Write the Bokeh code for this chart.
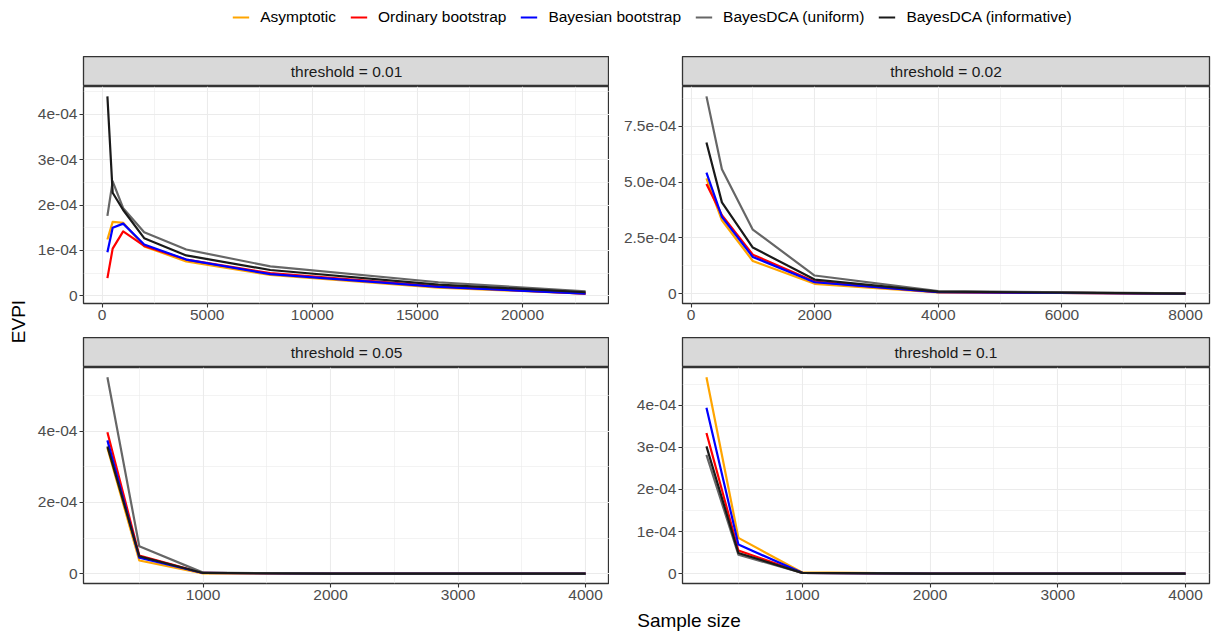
import math
import numpy as np
from bokeh.plotting import figure
from bokeh.models import Range1d, FixedTicker, Legend, LegendItem
from bokeh.layouts import column, row
from bokeh.embed import file_html
from bokeh.resources import INLINE
from bokeh.core.properties import value

FONT = "Liberation Sans"
SCALE = 1e-4  # series values below are in units of 1e-4

methods = ["Asymptotic", "Ordinary bootstrap", "Bayesian bootstrap",
           "BayesDCA (uniform)", "BayesDCA (informative)"]
colors = ["#FFA500", "#FF0000", "#0000FF", "#666666", "#1A1A1A"]

# threshold = 0.01
n_t1 = [250, 500, 1000, 2000, 4000, 8000, 16000, 23000]
asym_t1 = [1.24, 1.63, 1.61, 1.09, 0.76, 0.46, 0.18, 0.05]
ord_t1 = [0.39, 1.04, 1.42, 1.10, 0.80, 0.50, 0.21, 0.05]
bay_t1 = [0.96, 1.50, 1.59, 1.13, 0.80, 0.48, 0.20, 0.05]
uni_t1 = [1.76, 2.52, 1.93, 1.40, 1.02, 0.65, 0.30, 0.10]
inf_t1 = [4.39, 2.27, 1.89, 1.27, 0.89, 0.57, 0.25, 0.08]

# threshold = 0.02
n_t2 = [250, 500, 1000, 2000, 4000, 8000]
asym_t2 = [5.16, 3.29, 1.47, 0.45, 0.07, 0.01]
ord_t2 = [4.91, 3.52, 1.75, 0.55, 0.08, 0.01]
bay_t2 = [5.42, 3.44, 1.65, 0.52, 0.08, 0.01]
uni_t2 = [8.83, 5.57, 2.87, 0.82, 0.12, 0.02]
inf_t2 = [6.77, 4.09, 2.07, 0.64, 0.10, 0.01]

# threshold = 0.05
n_t3 = [250, 500, 1000, 2000, 4000]
asym_t3 = [3.53, 0.37, 0.01, 0.0, 0.0]
ord_t3 = [3.97, 0.51, 0.02, 0.0, 0.0]
bay_t3 = [3.74, 0.45, 0.02, 0.0, 0.0]
uni_t3 = [5.51, 0.77, 0.03, 0.0, 0.0]
inf_t3 = [3.57, 0.49, 0.02, 0.0, 0.0]

# threshold = 0.1
n_t4 = [250, 500, 1000, 2000, 4000]
asym_t4 = [4.66, 0.85, 0.03, 0.0, 0.0]
ord_t4 = [3.34, 0.55, 0.02, 0.0, 0.0]
bay_t4 = [3.94, 0.69, 0.02, 0.0, 0.0]
uni_t4 = [2.82, 0.45, 0.02, 0.0, 0.0]
inf_t4 = [3.02, 0.49, 0.02, 0.0, 0.0]

strip_labels = ["threshold = 0.01", "threshold = 0.02", "threshold = 0.05", "threshold = 0.1"]

xticks_t1 = [0, 5000, 10000, 15000, 20000]
xminor_t1 = [2500, 7500, 12500, 17500, 22500]
xticks_t2 = [0, 2000, 4000, 6000, 8000]
xminor_t2 = [1000, 3000, 5000, 7000]
xticks_t34 = [1000, 2000, 3000, 4000]
xminor_t34 = [500, 1500, 2500, 3500]

yticks_t1 = [0, 1e-4, 2e-4, 3e-4, 4e-4]
ylabels_t1 = ["0", "1e-04", "2e-04", "3e-04", "4e-04"]
yminor_t1 = [5e-5, 1.5e-4, 2.5e-4, 3.5e-4, 4.5e-4]
yticks_t2 = [0, 2.5e-4, 5e-4, 7.5e-4]
ylabels_t2 = ["0", "2.5e-04", "5.0e-04", "7.5e-04"]
yminor_t2 = [1.25e-4, 3.75e-4, 6.25e-4, 8.75e-4]
yticks_t3 = [0, 2e-4, 4e-4]
ylabels_t3 = ["0", "2e-04", "4e-04"]
yminor_t3 = [1e-4, 3e-4, 5e-4]
yticks_t4 = [0, 1e-4, 2e-4, 3e-4, 4e-4]
ylabels_t4 = ["0", "1e-04", "2e-04", "3e-04", "4e-04"]
yminor_t4 = [5e-5, 1.5e-4, 2.5e-4, 3.5e-4, 4.5e-4]

TICK_FS = "15.5px"
STRIP_FS = "15.5px"
LEG_FS = "15.5px"
TITLE_FS = "19px"


def strip(label, left, frame_w, right):
    p = figure(width=left + frame_w + right, height=30, x_range=Range1d(0, 1), y_range=Range1d(0, 1),
               output_backend="svg", toolbar_location=None, title=None,
               x_axis_location=None, y_axis_location=None,
               min_border_left=left, min_border_right=right, min_border_top=0, min_border_bottom=0)
    p.grid.grid_line_color = None
    p.background_fill_color = "#D9D9D9"
    p.outline_line_color = "#333333"
    p.outline_line_width = 1.3
    p.text(x=[0.5], y=[0.5], text=[label], text_align="center", text_baseline="middle",
           text_font=value(FONT), text_font_size=STRIP_FS, text_color="#1A1A1A")
    return p


def panel(n, series, xt, xm, yt, yl, ym, left, frame_w, right, frame_h, bottom):
    lo, hi = min(n), max(n)
    px = 0.05 * (hi - lo)
    vals = [v * SCALE for s in series for v in s]
    ylo, yhi = min(vals), max(vals)
    py = 0.05 * (yhi - ylo)
    p = figure(width=left + frame_w + right, height=frame_h + bottom,
               x_range=Range1d(lo - px, hi + px), y_range=Range1d(ylo - py, yhi + py),
               output_backend="svg", toolbar_location=None, title=None,
               min_border_left=left, min_border_right=right, min_border_top=0, min_border_bottom=bottom)
    p.xaxis.ticker = FixedTicker(ticks=xt, minor_ticks=xm)
    p.yaxis.ticker = FixedTicker(ticks=yt, minor_ticks=ym)
    p.yaxis.major_label_overrides = {t: l for t, l in zip(yt, yl)}
    for ax in (p.xaxis, p.yaxis):
        ax.axis_line_color = None
        ax.major_tick_line_color = "#333333"
        ax.major_tick_line_width = 1.1
        ax.major_tick_out = 4
        ax.major_tick_in = 0
        ax.minor_tick_line_color = None
        ax.major_label_text_color = "#4D4D4D"
        ax.major_label_text_font = FONT
        ax.major_label_text_font_size = TICK_FS
        ax.major_label_standoff = 2
    p.grid.grid_line_color = "#EBEBEB"
    p.grid.grid_line_width = 1.1
    p.grid.minor_grid_line_color = "#EBEBEB"
    p.grid.minor_grid_line_width = 0.6
    p.outline_line_color = "#333333"
    p.outline_line_width = 1.3
    p.background_fill_color = "white"
    for s, c in zip(series, colors):
        p.line(x=n, y=[v * SCALE for v in s], line_color=c, line_width=2.2, line_join="round")
    return p


YLAB_W = 28
LW, LF, LR = 55, 526, 0   # left column: border / frame / right border
RW, RF, RR = 73, 527, 2   # right column
TOPH, TOPB = 217, 34
BOTH, BOTB = 216, 26
LEG_H = 56
XLAB_H = 22

s1 = strip(strip_labels[0], LW, LF, LR)
p1 = panel(n_t1, [asym_t1, ord_t1, bay_t1, uni_t1, inf_t1], xticks_t1, xminor_t1,
           yticks_t1, ylabels_t1, yminor_t1, LW, LF, LR, TOPH, TOPB)
s2 = strip(strip_labels[1], RW, RF, RR)
p2 = panel(n_t2, [asym_t2, ord_t2, bay_t2, uni_t2, inf_t2], xticks_t2, xminor_t2,
           yticks_t2, ylabels_t2, yminor_t2, RW, RF, RR, TOPH, TOPB)
s3 = strip(strip_labels[2], LW, LF, LR)
p3 = panel(n_t3, [asym_t3, ord_t3, bay_t3, uni_t3, inf_t3], xticks_t34, xminor_t34,
           yticks_t3, ylabels_t3, yminor_t3, LW, LF, LR, BOTH, BOTB)
s4 = strip(strip_labels[3], RW, RF, RR)
p4 = panel(n_t4, [asym_t4, ord_t4, bay_t4, uni_t4, inf_t4], xticks_t34, xminor_t34,
           yticks_t4, ylabels_t4, yminor_t4, RW, RF, RR, BOTH, BOTB)

col_h = 30 + TOPH + TOPB + 30 + BOTH + BOTB

# y-axis title
yl = figure(width=YLAB_W, height=col_h, x_range=Range1d(0, YLAB_W), y_range=Range1d(0, col_h),
            output_backend="svg", toolbar_location=None, title=None,
            x_axis_location=None, y_axis_location=None, min_border=0)
yl.grid.grid_line_color = None
yl.outline_line_color = None
yl.text(x=[18], y=[col_h - 265], text=["EVPI"], angle=math.pi / 2, text_align="center",
        text_baseline="middle", text_font=value(FONT), text_font_size=TITLE_FS, text_color="black")

TOTAL_W = YLAB_W + LW + LF + LR + RW + RF + RR

# legend
lg = figure(width=TOTAL_W, height=LEG_H, x_range=Range1d(0, 1), y_range=Range1d(0, 1),
            output_backend="svg", toolbar_location=None, title=None,
            x_axis_location=None, y_axis_location=None,
            min_border_left=93, min_border_right=0, min_border_top=8, min_border_bottom=0)
lg.grid.grid_line_color = None
lg.outline_line_color = None
items = []
for m, c in zip(methods, colors):
    r = lg.line(x=[-5, -4], y=[-5, -4], line_color=c, line_width=2.2)
    items.append(LegendItem(label=m, renderers=[r]))
legend = Legend(items=items, orientation="horizontal", location="top_center",
                label_text_font=FONT, label_text_font_size=LEG_FS, label_text_color="black",
                glyph_width=17, glyph_height=18, label_height=18, label_standoff=11,
                spacing=14, padding=0, margin=0, border_line_color=None,
                background_fill_alpha=0)
lg.add_layout(legend)

# x-axis title
xl = figure(width=TOTAL_W, height=XLAB_H, x_range=Range1d(0, TOTAL_W), y_range=Range1d(0, XLAB_H),
            output_backend="svg", toolbar_location=None, title=None,
            x_axis_location=None, y_axis_location=None, min_border=0)
xl.grid.grid_line_color = None
xl.outline_line_color = None
xl.text(x=[645], y=[11], text=["Sample size"], text_align="center", text_baseline="middle",
        text_font=value(FONT), text_font_size=TITLE_FS, text_color="black")

layout = column(lg,
                row(yl, column(s1, p1, s3, p3), column(s2, p2, s4, p4)),
                xl)

open("out.html", "w").write(file_html(layout, INLINE))
